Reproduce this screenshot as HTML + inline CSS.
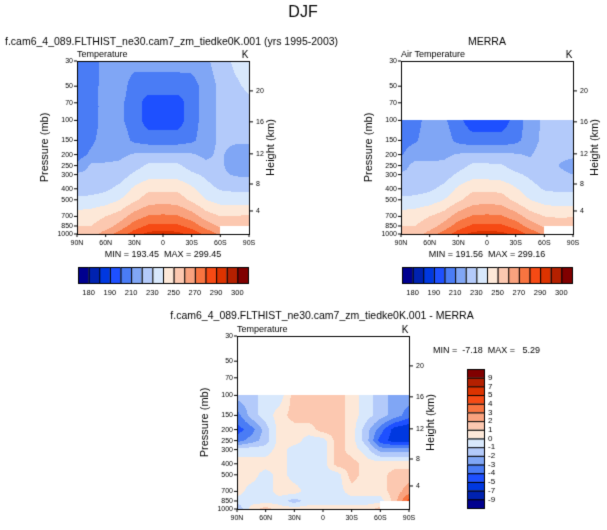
<!DOCTYPE html>
<html><head><meta charset="utf-8">
<style>
body{margin:0;background:#fff;width:607px;height:530px;position:relative;overflow:hidden;font-family:"Liberation Sans",Arial,sans-serif;}
canvas{position:absolute;left:0;top:0;}
</style></head>
<body>
<canvas id="c" width="607" height="530"></canvas>
<script>
// ---------- data ----------
const lats = ["90N","75N","60N","45N","30N","15N","0","15S","30S","45S","60S","75S","90S"];
const levels = [30,50,70,100,150,200,250,300,400,500,700,850,1000];
const latTicks = ["90N","60N","30N","0","30S","60S","90S"];
const presTicks = [30,50,70,100,150,200,250,300,400,500,700,850,1000];
const heightTicks = [20,16,12,8,4];
const heightPressure = [55,103,197,363,627];
const tempBounds = [180,185,190,200,210,220,230,240,250,260,270,280,290,295,300];
const tempLabels = ["180","190","210","230","250","270","290","300"];
const diffBounds = [-9,-7,-5,-4,-3,-2,-1,0,1,2,3,4,5,7,9];
const diffLabels = ["9","7","5","4","3","2","1","0","-1","-2","-3","-4","-5","-7","-9"];
const colors = ["#00008f","#0022b0","#0038e0","#1e50ff","#4a7cf5","#80a6f5","#b3cafa","#d8e8fc","#fde8d8","#fcc8b0","#f9a27e","#f87440","#f64a14","#dc3300","#b42000","#800000"];
const modelT = [
[205,205,214,214,214,214,214,214,215,218,225,232,235],
[205,205,215,215,205,205,205,205,205,215,222,228,232],
[205,205,215,212,205,195,195,195,205,215,222,225,228],
[205,205,215,212,205,195,195,195,205,215,222,222,225],
[205,208,215,215,208,205,205,205,208,215,222,222,222],
[205,212,215,218,221,222,222,222,221,218,222,215,215],
[212,222,222,222,226,232,232,232,226,222,222,215,213],
[222,222,222,225,232,236,236,236,232,228,222,219,218],
[225,226,228,233,242,248,248,248,242,234,229,228,228],
[232,233,235,240,248,255,256,255,248,240,236,235,235],
[245,246,250,255,265,271,272,271,265,255,250,250,252],
[250,250,255,264,275,282,282,282,276,266,258,256,256],
[252,255,265,275,285,293,296,293,287,277,268,null,null]];
const merraT = [
[null,null,null,null,null,null,null,null,null,null,null,null,null],
[null,null,null,null,null,null,null,null,null,null,null,null,null],
[null,null,null,null,null,null,null,null,null,null,null,null,null],
[205,206,215,212,203,194,194,194,204,215,222,224,227],
[207,209,215,215,207,204,204,204,207,215,223,224,225],
[209,215,216,218,221,222,222,222,221,219,225,221,221],
[215,224,223,222,226,232,232,231,226,223,226,220,218],
[222,222,222,225,232,236,236,235,232,228,224,221,220],
[225,226,228,233,242,248,248,247,241,234,229,228,228],
[232,233,235,240,248,255,256,255,247,240,236,234,234],
[245,246,250,255,265,271,272,271,265,255,250,249,250],
[250,250,255,264,275,282,282,282,276,266,258,255,252],
[253,255,264,275,285,293,295,293,287,277,268,null,null]];
const diffT = [
[null,null,null,null,null,null,null,null,null,null,null,null,null],
[null,null,null,null,null,null,null,null,null,null,null,null,null],
[null,null,null,null,null,null,null,null,null,null,null,null,null],
[-1.5,-1.5,-0.5,-0.5,1.5,1.5,1.5,1.5,0.5,-0.5,-1.5,-2.5,-2.5],
[-3.5,-1.5,-0.5,0.5,1.5,1.5,1.5,1.5,0.5,-0.5,-1.5,-2.5,-3.5],
[-4.5,-3.5,-1.5,0.5,0.5,0.5,1.5,1.5,0.5,-1.5,-3.5,-5.5,-6],
[-3.5,-2.5,-1.5,0.5,0.5,-0.5,-0.5,1.5,0.5,-1.5,-4.5,-5.5,-5.5],
[-0.5,-0.5,-0.5,0.5,-0.5,-0.5,-0.5,1.5,0.5,-0.5,-2.5,-2.5,-2.5],
[0.5,0.5,0.5,0.5,-0.5,-0.5,-0.5,1.5,1.5,0.5,0.5,0.5,0.5],
[0.5,0.5,-0.5,0.5,-0.5,-0.5,-0.5,-0.5,1.5,0.5,0.5,1.5,1.5],
[0.5,-0.5,-0.5,0.5,0.5,-0.5,-0.5,-0.5,0.5,0.5,0.5,1.5,2.5],
[-0.5,-0.5,-0.5,-0.5,-1.5,-0.5,-0.5,-0.5,-0.5,-0.5,-0.5,1.5,4.5],
[-2,0.5,1.5,0.5,0.5,0.5,0.5,0.5,0.5,0.5,1.5,null,null]];

// ---------- drawing ----------
const cv=document.getElementById('c'),ctx=cv.getContext('2d');
const F='"Liberation Sans",Arial,sans-serif';
function txt(s,x,y,size,align,rot){ctx.save();ctx.font=size+'px '+F;ctx.fillStyle='#000';ctx.textAlign=align||'left';ctx.textBaseline='middle';ctx.translate(x,y);if(rot)ctx.rotate(rot);ctx.fillText(s,0,0);ctx.restore();}
function colorFor(v,b){let i=0;while(i<b.length&&v>=b[i])i++;return colors[i];}

function plot(o){
  const {x0,y0,w,h,data,bounds,title}=o;
  const lp0=Math.log(30),lp1=Math.log(1000);
  const yOf=p=>y0+(Math.log(p)-lp0)/(lp1-lp0)*h;
  const ly=levels.map(yOf);
  for(let py=0;py<h;py++){
    const yy=y0+py+0.5;
    let k=0;while(k<levels.length-2&&ly[k+1]<yy)k++;
    const fy=Math.min(1,Math.max(0,(yy-ly[k])/(ly[k+1]-ly[k])));
    for(let px=0;px<w;px++){
      const fi=(px+0.5)/w*(lats.length-1);
      const i=Math.min(lats.length-2,Math.floor(fi)),fx=fi-i;
      const a=data[k][i],b=data[k][i+1],c=data[k+1][i],d=data[k+1][i+1];
      if(a==null||b==null||c==null||d==null)continue;
      const v=(a*(1-fx)+b*fx)*(1-fy)+(c*(1-fx)+d*fx)*fy;
      ctx.fillStyle=colorFor(v,bounds);ctx.fillRect(x0+px,y0+py,1,1);
    }
  }
  ctx.strokeStyle='#000';ctx.lineWidth=1;ctx.strokeRect(x0+0.5,y0+0.5,w,h);
  presTicks.forEach(p=>{const y=yOf(p);ctx.beginPath();ctx.moveTo(x0-3,y);ctx.lineTo(x0,y);ctx.stroke();txt(String(p),x0-4,y,7,'right');});
  latTicks.forEach((l,j)=>{const x=x0+j/6*w;ctx.beginPath();ctx.moveTo(x,y0+h);ctx.lineTo(x,y0+h+3);ctx.stroke();txt(l,x,y0+h+9,7,'center');});
  heightTicks.forEach((km,j)=>{const y=yOf(heightPressure[j]);ctx.beginPath();ctx.moveTo(x0+w,y);ctx.lineTo(x0+w+4,y);ctx.stroke();txt(String(km),x0+w+7,y,7,'left');});
  txt('Pressure (mb)',x0-32,y0+h/2,11,'center',-Math.PI/2);
  txt('Height (km)',x0+w+22,y0+h/2,11,'center',-Math.PI/2);
  txt(title,x0,y0-6,9,'left');
  txt('K',x0+w-4,y0-6,10,'center');
}
function hbar(x0,y0,w,h){const n=colors.length,bw=w/n;
  colors.forEach((c,i)=>{ctx.fillStyle=c;ctx.fillRect(x0+i*bw,y0,bw,h);ctx.strokeStyle='#000';ctx.strokeRect(x0+i*bw+0.5,y0+0.5,bw,h);});
  tempLabels.forEach((l,j)=>txt(l,x0+(2*j+1)*bw,y0+h+10,7.5,'center'));}
function vbar(x0,y0,w,h){const n=colors.length,bh=h/n;
  for(let i=0;i<n;i++){ctx.fillStyle=colors[n-1-i];ctx.fillRect(x0,y0+i*bh,w,bh);ctx.strokeStyle='#000';ctx.strokeRect(x0+0.5,y0+i*bh+0.5,w,bh);}
  diffLabels.forEach((l,j)=>txt(l,x0+w+4,y0+(j+1)*bh,8,'left'));}

txt('DJF',303,13,16,'center');
txt('f.cam6_4_089.FLTHIST_ne30.cam7_zm_tiedke0K.001 (yrs 1995-2003)',5,42,10.5,'left');
txt('MERRA',487,42,10.5,'center');
txt('f.cam6_4_089.FLTHIST_ne30.cam7_zm_tiedke0K.001 - MERRA',322,316,10.5,'center');
plot({x0:77,y0:61,w:172,h:173,data:modelT,bounds:tempBounds,title:'Temperature'});
plot({x0:401,y0:61,w:172,h:173,data:merraT,bounds:tempBounds,title:'Air Temperature'});
plot({x0:237,y0:336,w:172,h:173,data:diffT,bounds:diffBounds,title:'Temperature'});
txt('MIN = 193.45  MAX = 299.45',163,255,9,'center');
txt('MIN = 191.56  MAX = 299.16',487,255,9,'center');
txt('MIN =  -7.18  MAX =   5.29',433,351,9,'left');
hbar(78,267,170,16);
hbar(402,267,170,16);
vbar(467,369,17,139);
</script>
</body></html>
